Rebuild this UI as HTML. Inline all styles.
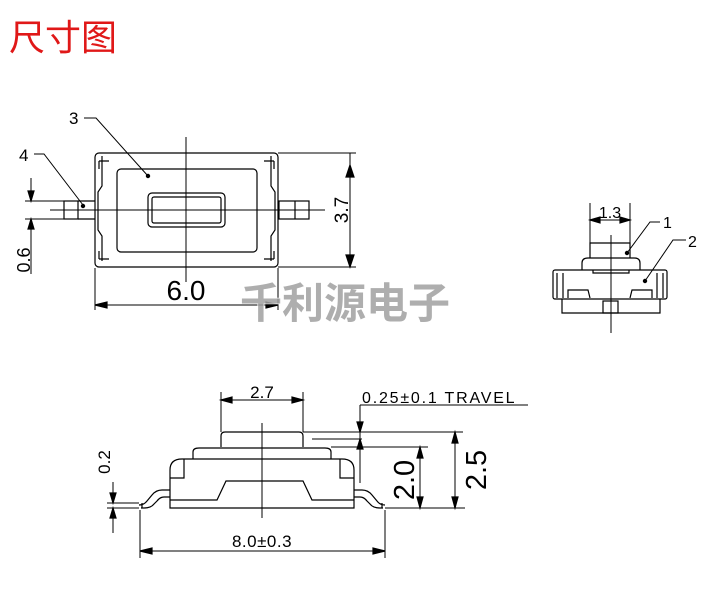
<!DOCTYPE html>
<html><head><meta charset="utf-8"><style>
html,body{margin:0;padding:0;background:#fff;width:711px;height:610px;overflow:hidden}
svg{display:block}
text{font-family:"Liberation Sans","DejaVu Sans",sans-serif;fill:#000}
</style></head><body>
<svg width="711" height="610" viewBox="0 0 711 610" xmlns="http://www.w3.org/2000/svg">
<text x="9" y="50" font-size="36" style="font-family:'Noto Sans CJK SC',sans-serif;fill:#e01818">尺寸图</text>

<g stroke="#000" stroke-width="1.2" fill="none">
<!-- TOP VIEW -->
<rect x="95" y="153" width="183" height="114" rx="4"/>
<path d="M99,161 h10 M99,161 v8 M274,161 h-10 M274,161 v8 M99,259 h10 M99,259 v-8 M274,259 h-10 M274,259 v-8"/>
<path d="M102,156 v30 l-4,6 v38 l4,6 v25 M271,156 v30 l4,6 v38 l-4,6 v25"/>
<rect x="117" y="169" width="140" height="83" rx="4"/>
<rect x="148" y="193" width="77" height="34" rx="4"/>
<rect x="152" y="197" width="69" height="26" rx="2"/>
<path d="M174,210 h25" stroke-width="1"/>
<path d="M186,137 v145 M50,210 h275" stroke-width="1"/>
<rect x="64" y="201" width="14" height="18"/>
<path d="M78,201 h17 M78,219 h17"/>
<rect x="279" y="201" width="30" height="18"/>
<path d="M295,201 v18"/>
<path d="M278,153 h78 M278,267 h78" stroke-width="1"/>
<path d="M350,168 v-15 M350,252 v15" stroke-width="1"/>
<path d="M350,168 v84" stroke-width="1"/>
<path d="M350,165 L346,177 L354,177z M350,267 L346,255 L354,255z" fill="#000"/>
<path d="M25,201 h40 M25,219 h40" stroke-width="1"/>
<path d="M31,178 v23 M31,219 v55" stroke-width="1"/>
<path d="M31,201 L28,191 L34,191z M31,219 L28,229 L34,229z" fill="#000"/>
<path d="M95,268 v42 M278,268 v42 M95,305 h183" stroke-width="1"/>
<path d="M95,305 L107,302 L107,308z M278,305 L266,302 L266,308z" fill="#000"/>
<path d="M84,118 h12 L148,176 M34,154 h10 L83,205" stroke-width="1"/>
<circle cx="148" cy="176" r="1.6" fill="#000"/>
<circle cx="83" cy="206" r="1.6" fill="#000"/>

<!-- RIGHT VIEW -->
<path d="M590,258 v-15 h40 v15" />
<path d="M582,270 v-7 q0,-5 6,-5 h46 q6,0 6,5 v7"/>
<path d="M593,270 v3 h36 v-3"/>
<rect x="553" y="270" width="114" height="29" rx="2"/>
<path d="M557,273 v25 M663,273 v25 M563,273 v25 M657,273 v25"/>
<path d="M568,298 v-8 h20 l2,8 M652,298 v-8 h-20 l-2,8"/>
<rect x="603" y="301" width="15" height="12"/>
<path d="M562,299 v14 h98 v-14"/>
<path d="M611,235 v98" stroke-width="1"/>
<path d="M590,243 v-40 M630,243 v-40 M590,220 h40" stroke-width="1"/>
<path d="M590,220 L600,217 L600,223z M630,220 L620,217 L620,223z" fill="#000"/>
<path d="M660,222 h-10 L627,253 M686,240 h-13 L645,281" stroke-width="1"/>
<circle cx="627" cy="253" r="1.6" fill="#000"/>
<circle cx="645" cy="281" r="1.6" fill="#000"/>

<!-- SIDE VIEW -->
<path d="M221,447 v-11 q0,-4 4,-4 h74 q4,0 4,4 v11"/>
<path d="M193,459 v-7 q0,-4 6,-4 h126 q6,0 6,4 v7"/>
<path d="M170,508 v-38 q0,-11 12,-11 h160 q12,0 12,11 v38 z"/>
<path d="M170,478 h14 v-19 M354,478 h-14 v-19"/>
<path d="M170,500 h47 l9,-19 h77 l9,19 h42"/>
<path d="M170,490 h-8 q-6,0 -10,5 l-5,6 q-3,4 -8,4 M170,497 h-6 q-4,0 -7,4 l-3,3 q-3,4 -10,4 h-3 M142,503 v5"/>
<path d="M354,490 h8 q6,0 10,5 l5,6 q3,4 8,4 M354,497 h6 q4,0 7,4 l3,3 q3,4 10,4 h3 M382,503 v5"/>
<path d="M262,423 v95" stroke-width="1"/>
<path d="M221,432 v-40 M303,432 v-40 M221,400 h82" stroke-width="1"/>
<path d="M221,400 L232,397 L232,403z M303,400 L292,397 L292,403z" fill="#000"/>
<path d="M360,405 h168 M360,405 v78" stroke-width="1"/>
<path d="M303,432 h160 M312,439 h50 M331,447 h97" stroke-width="1"/>
<path d="M360,432 L357,422 L363,422z M360,439 L357,449 L363,449z" fill="#000"/>
<path d="M385,508 h80" stroke-width="1"/>
<path d="M420,447 v61 M455,432 v76" stroke-width="1"/>
<path d="M420,447 L417,458 L423,458z M420,508 L417,497 L423,497z M455,432 L452,443 L458,443z M455,508 L452,497 L458,497z" fill="#000"/>
<path d="M107,503 h32 M107,508 h32" stroke-width="1"/>
<path d="M113,482 v21 M113,508 v25" stroke-width="1"/>
<path d="M113,503 L110,493 L116,493z M113,508 L110,518 L116,518z" fill="#000"/>
<path d="M140,510 v48 M385,510 v48 M140,551 h245" stroke-width="1"/>
<path d="M140,551 L152,548 L152,554z M385,551 L373,548 L373,554z" fill="#000"/>
</g>

<text x="69" y="124" font-size="17">3</text>
<text x="19" y="161" font-size="17">4</text>
<text x="663" y="228" font-size="16">1</text>
<text x="688" y="247" font-size="16">2</text>
<text x="186" y="300" font-size="28" text-anchor="middle">6.0</text>
<text transform="translate(348,210) rotate(-90)" font-size="19" text-anchor="middle">3.7</text>
<text transform="translate(30,260) rotate(-90)" font-size="18" text-anchor="middle">0.6</text>
<text x="610" y="218" font-size="16" text-anchor="middle">1.3</text>
<text x="262" y="398" font-size="17" text-anchor="middle">2.7</text>
<text x="362" y="403" font-size="16" letter-spacing="1.8">0.25±0.1 TRAVEL</text>
<text transform="translate(414,480) rotate(-90)" font-size="29" text-anchor="middle">2.0</text>
<text transform="translate(486,470) rotate(-90)" font-size="29" text-anchor="middle">2.5</text>
<text transform="translate(110,462) rotate(-90)" font-size="17" text-anchor="middle">0.2</text>
<text x="262" y="547" font-size="17" letter-spacing="0.5" text-anchor="middle">8.0±0.3</text>

<text x="345" y="318" font-size="42" font-weight="bold" text-anchor="middle" style="font-family:'Noto Sans CJK SC',sans-serif;fill:#a0a0a0;stroke:#fff;stroke-width:1.5;paint-order:stroke" opacity="0.85">千利源电子</text>
</svg>
</body></html>
